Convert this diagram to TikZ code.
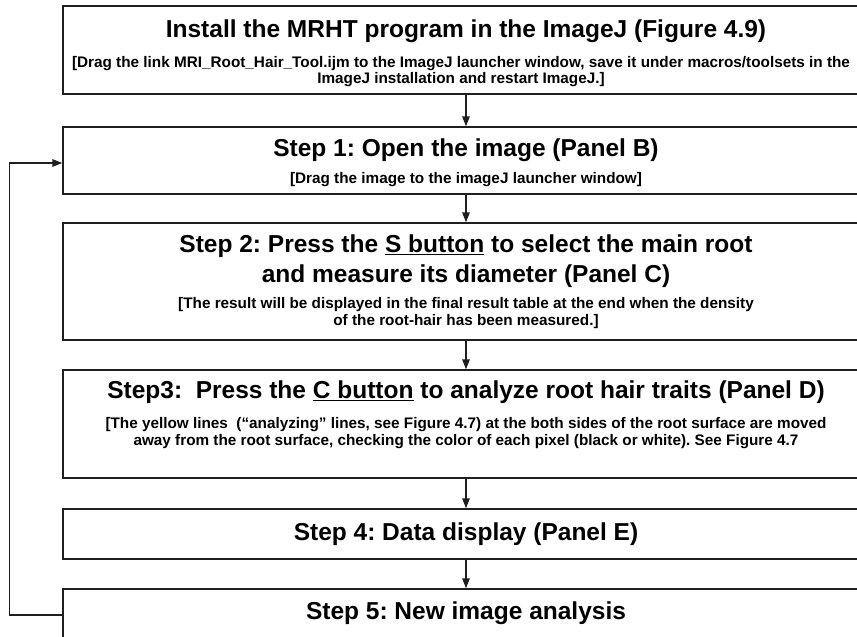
\documentclass[tikz,border=0pt]{standalone}
\usepackage{fontspec}
\setmainfont{Liberation Sans}
\frenchspacing
\usetikzlibrary{arrows.meta}
\begin{document}
\frenchspacing
\begin{tikzpicture}[x=1pt,y=-1pt,
  box/.style={draw=black!88, line width=1.4pt, minimum width=806pt, inner sep=0pt},
  title/.style={font=\fontsize{24.5}{30}\selectfont\bfseries, align=center, inner sep=0pt},
  sub/.style={font=\fontsize{15.3}{16.5}\selectfont\bfseries, align=center, inner sep=0pt},
  arr/.style={draw=black!88, line width=1.4pt, -{Triangle[length=10pt,width=7.5pt]}}]
\clip (0,0) rectangle (857,637);
\fill[white] (0,0) rectangle (857,637);
% boxes
\node[box, minimum height=88pt] (b0) at (466,50) {};
\node[box, minimum height=67pt] (b1) at (466,160.5) {};
\node[box, minimum height=117pt] (b2) at (466,281.5) {};
\node[box, minimum height=108pt] (b3) at (466,424) {};
\node[box, minimum height=50pt] (b4) at (466,534) {};
\node[box, minimum height=76pt] (b5) at (466,627) {};
% texts
\node[title] (t0) at (466,31) {Install the MRHT program in the ImageJ (Figure 4.9)};
\node[sub] (s0) at (461,71.5) {[Drag the link MRI\_Root\_Hair\_Tool.ijm to the ImageJ launcher window, save it under macros/toolsets in the\\ImageJ installation and restart ImageJ.]};
\node[title] (t1) at (466,150) {Step 1: Open the image (Panel B)};
\node[sub] (s1) at (466,180) {[Drag the image to the imageJ launcher window]};
\node[title] (t2) at (466,261.5) {Step 2: Press the \underline{S button} to select the main root\\and measure its diameter (Panel C)};
\node[sub] (s2) at (466,313) {[The result will be displayed in the final result table at the end when the density\\of the root-hair has been measured.]};
\node[title] (t3) at (466,392) {Step3:\ \ Press the \underline{C button} to analyze root hair traits (Panel D)};
\node[sub] (s3) at (466,433) {[The yellow lines\ \ (“analyzing” lines, see Figure 4.7) at the both sides of the root surface are moved\\away from the root surface, checking the color of each pixel (black or white). See Figure 4.7};
\node[title] (t4) at (466,534) {Step 4: Data display (Panel E)};
\node[title] (t5) at (466,613) {Step 5: New image analysis};
% connectors
\draw[arr] (b0) -- (b1);
\draw[arr] (b1) -- (b2);
\draw[arr] (b2) -- (b3);
\draw[arr] (b3) -- (b4);
\draw[arr] (b4) -- (b5);
\coordinate (fbot) at (9.5,615);
\coordinate (ftop) at (9.5,163);
\draw[arr] (fbot -| b5.west) -- (fbot) -- (ftop) -- (ftop -| b1.west);
\end{tikzpicture}
\end{document}
